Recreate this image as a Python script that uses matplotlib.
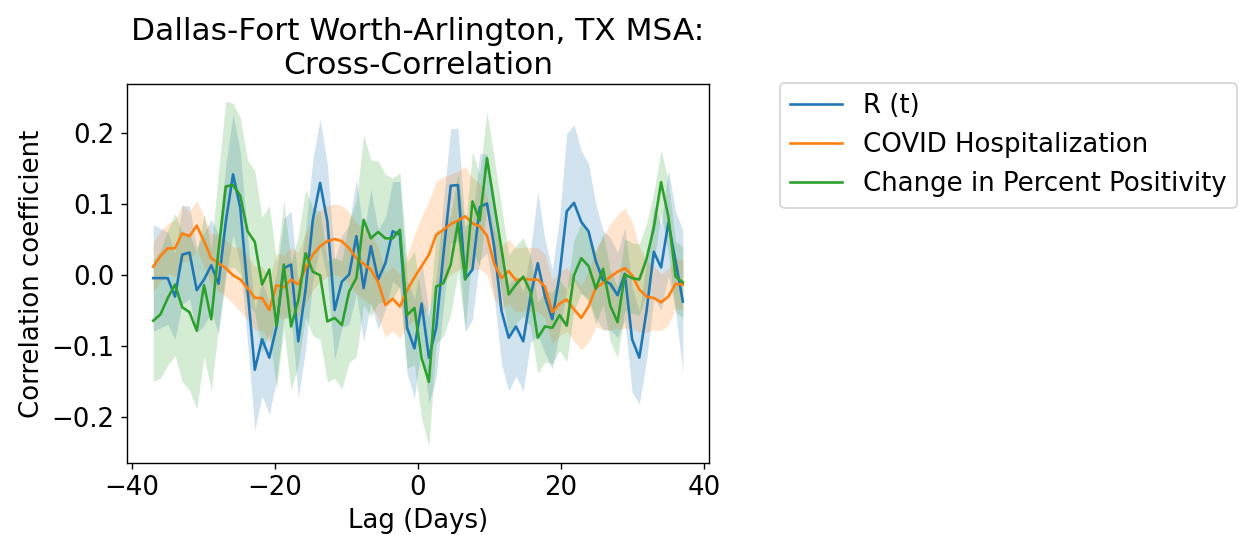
"""Cross-correlation of R(t), hospitalization and positivity change for Dallas-Fort Worth."""

import numpy as np
import matplotlib
matplotlib.use('Agg')
import matplotlib.pyplot as plt

# lag grid: 74 lags spread evenly from -37 to 37 days
LAGS = np.linspace(-37, 37, 74)

R_T = [
    -0.004, -0.004, -0.004, -0.030, 0.029, 0.032, -0.021, -0.006,
    0.014, -0.012, 0.075, 0.142, 0.095, -0.020, -0.133, -0.090,
    -0.116, -0.072, 0.010, 0.015, -0.093, -0.020, 0.078, 0.130,
    0.076, -0.049, -0.009, 0.001, 0.055, -0.018, 0.041, -0.006,
    0.017, 0.062, 0.057, -0.074, -0.103, -0.040,
    -0.116, -0.074, 0.030, 0.126, 0.127, -0.005, 0.008, 0.096, 0.101,
    0.040, -0.050, -0.088, -0.072, -0.093, -0.030, 0.017, -0.030, -0.062, 0.000,
    0.090, 0.102, 0.075, 0.062, 0.020, -0.007, -0.012, -0.028, 0.002, -0.090,
    -0.116, -0.050, 0.033, 0.011, 0.074, 0.020, -0.037]
R_T_HW = [
    0.075, 0.070, 0.065, 0.060, 0.070, 0.065, 0.060, 0.065,
    0.065, 0.070, 0.080, 0.085, 0.080, 0.075, 0.085, 0.080,
    0.080, 0.075, 0.070, 0.075, 0.080, 0.085, 0.085, 0.090,
    0.080, 0.070, 0.065, 0.070, 0.080, 0.075, 0.080, 0.070,
    0.065, 0.070, 0.075, 0.065, 0.070, 0.060,
    0.065, 0.070, 0.075, 0.080, 0.080, 0.075, 0.070, 0.075, 0.070,
    0.070, 0.075, 0.075, 0.070, 0.070, 0.065, 0.100, 0.080, 0.070, 0.080,
    0.110, 0.110, 0.100, 0.095, 0.080, 0.070, 0.065, 0.060, 0.065, 0.075,
    0.065, 0.070, 0.065, 0.060, 0.075, 0.070, 0.100]

HOSP = [
    0.012, 0.027, 0.038, 0.038, 0.059, 0.055, 0.070, 0.048,
    0.024, 0.017, 0.010, 0.000, -0.006, -0.018, -0.032, -0.032,
    -0.049, -0.014, -0.017, -0.006, -0.013, 0.010, 0.029, 0.041,
    0.048, 0.051, 0.048, 0.038, 0.024, 0.016, 0.008, -0.010,
    -0.042, -0.033, -0.044, -0.021, -0.003, 0.013,
    0.029, 0.057, 0.064, 0.072, 0.077, 0.083, 0.073, 0.069, 0.056,
    0.016, -0.004, 0.006, -0.007, -0.005, -0.006, -0.006, -0.016, -0.052, -0.040,
    -0.034, -0.048, -0.060, -0.044, -0.018, -0.011, -0.002, 0.005, 0.010, 0.000,
    -0.020, -0.030, -0.032, -0.038, -0.030, -0.012, -0.013]
HOSP_HW = [
    0.035, 0.035, 0.035, 0.040, 0.040, 0.035, 0.035, 0.035,
    0.035, 0.040, 0.040, 0.040, 0.045, 0.045, 0.045, 0.045,
    0.045, 0.045, 0.045, 0.045, 0.045, 0.050, 0.050, 0.050,
    0.050, 0.050, 0.050, 0.050, 0.050, 0.050, 0.050, 0.050,
    0.045, 0.045, 0.045, 0.050, 0.060, 0.070,
    0.075, 0.075, 0.075, 0.070, 0.070, 0.070, 0.065, 0.060, 0.055,
    0.050, 0.045, 0.045, 0.045, 0.045, 0.045, 0.045, 0.045, 0.045, 0.045,
    0.045, 0.045, 0.045, 0.050, 0.055, 0.065, 0.075, 0.080, 0.085, 0.075,
    0.060, 0.050, 0.045, 0.040, 0.040, 0.035, 0.035]

POSITIVITY = [
    -0.064, -0.055, -0.032, -0.013, -0.045, -0.052, -0.078, -0.014,
    -0.062, 0.035, 0.125, 0.127, 0.112, 0.062, 0.047, -0.013,
    0.008, -0.071, 0.015, -0.072, -0.035, 0.031, 0.005, 0.000,
    -0.065, -0.060, -0.070, -0.023, -0.004, 0.078, 0.052, 0.061,
    0.052, 0.052, 0.064, -0.056, -0.046, -0.117,
    -0.150, -0.016, -0.011, 0.015, 0.074, -0.006, 0.104, 0.077, 0.165,
    0.100, 0.037, -0.027, -0.013, -0.002, -0.023, -0.088, -0.072, -0.074, -0.056,
    -0.071, 0.000, 0.024, 0.013, -0.019, 0.009, -0.043, -0.066, 0.001, -0.004,
    -0.006, 0.023, 0.067, 0.131, 0.083, -0.002, -0.010]
POSITIVITY_HW = [
    0.085, 0.090, 0.095, 0.100, 0.105, 0.110, 0.110, 0.100,
    0.100, 0.110, 0.120, 0.115, 0.110, 0.100, 0.100, 0.095,
    0.090, 0.090, 0.090, 0.090, 0.090, 0.090, 0.090, 0.090,
    0.085, 0.085, 0.090, 0.100, 0.110, 0.120, 0.110, 0.100,
    0.090, 0.085, 0.080, 0.075, 0.080, 0.085,
    0.090, 0.080, 0.075, 0.070, 0.070, 0.070, 0.070, 0.065, 0.065,
    0.065, 0.060, 0.055, 0.055, 0.055, 0.050, 0.050, 0.050, 0.050, 0.050,
    0.050, 0.050, 0.050, 0.050, 0.050, 0.050, 0.050, 0.050, 0.050, 0.050,
    0.050, 0.050, 0.050, 0.045, 0.050, 0.050, 0.050]

SERIES = [
    ('R (t)', R_T, R_T_HW),
    ('COVID Hospitalization', HOSP, HOSP_HW),
    ('Change in Percent Positivity', POSITIVITY, POSITIVITY_HW),
]

plt.rcParams['font.family'] = 'DejaVu Sans'
plt.rcParams['font.size'] = 15

fig = plt.figure(figsize=(1239 / 125, 535 / 125), dpi=125)
ax = fig.add_axes([0.1023, 0.1346, 0.4702, 0.7084])

for label, values, half_width in SERIES:
    values = np.array(values)
    half_width = np.array(half_width)
    line, = ax.plot(LAGS, values, label=label)
    ax.fill_between(LAGS, values - half_width, values + half_width,
                    color=line.get_color(), alpha=0.2, linewidth=0)

ax.set_title('Dallas-Fort Worth-Arlington, TX MSA:\nCross-Correlation')
ax.set_xlabel('Lag (Days)')
ax.set_ylabel('Correlation coefficient')
ax.legend(loc='upper left', bbox_to_anchor=(1.121, 1.003), borderaxespad=0)

fig.savefig('out.png', dpi=125)
